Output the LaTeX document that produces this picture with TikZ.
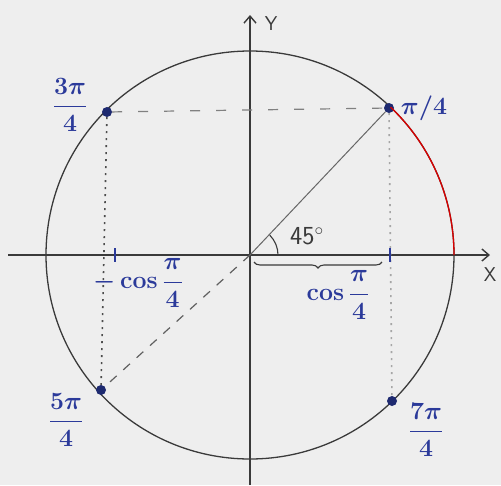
\documentclass[tikz,border=0pt]{standalone}
\usepackage{amsmath}
\usetikzlibrary{decorations.pathreplacing,arrows.meta}
\definecolor{ink}{HTML}{2B3A9A}
\definecolor{pen}{HTML}{3A3A3A}
\definecolor{dotc}{HTML}{1E2A70}
\definecolor{paper}{HTML}{EEEEEE}
\begin{document}
\begin{tikzpicture}[x=1pt,y=-1pt,
  ptnode/.style={circle,fill=dotc,inner sep=0pt,minimum size=10pt},
  lbl/.style={text=ink,inner sep=1pt},
  bigfrac/.style={lbl,font=\fontsize{28}{30}\selectfont\boldmath},
  smallfrac/.style={lbl,font=\fontsize{24}{26}\selectfont\boldmath},
  axis/.style={pen,line width=1.4pt,-{Straight Barb[length=7pt,width=12pt]}},
  guide/.style={gray,line width=1.2pt,dash pattern=on 10pt off 16pt},
  dots/.style={gray!60!black,line width=1.6pt,dash pattern=on 2pt off 5pt}]
\useasboundingbox (0,0) rectangle (501,485);
\fill[paper] (0,0) rectangle (501,485);
\coordinate (O) at (250,255);
\coordinate (xs) at (8,255);
\coordinate (xe) at (490,255);
\coordinate (ys) at (250,485);
\coordinate (ye) at (250,15);
\coordinate (E) at (454,255);
% circle
\draw[pen,line width=1.3pt] (O) circle (204pt);
% axes
\draw[axis] (xs) -- (xe);
\draw[axis] (ys) -- (ye);
\node[pen,font=\fontsize{20}{22}\selectfont\sffamily] (ylab) at (271,24) {Y};
\node[pen,font=\fontsize{20}{22}\selectfont\sffamily] (xlab) at (490,275) {X};
% points
\node[ptnode] (A) at (389,108) {};
\node[ptnode] (B) at (107,112) {};
\node[ptnode] (C) at (101,390) {};
\node[ptnode] (D) at (392,401) {};
% red arc
\draw[red!85!black,line width=1.3pt] (E) arc[start angle=0,end angle=46.4,radius=204pt];
% guide lines
\draw[guide] (B) -- (A);
\draw[dots,gray!70] (A) -- (D);
\draw[dots] (B) -- (C);
\draw[gray!75!black,line width=1.2pt,dash pattern=on 9pt off 9pt] (O) -- (C);
\draw[gray!80!black,line width=1pt] (O) -- (A);
% angle
\draw[pen,line width=1.1pt] (O) ++(28pt,0pt) arc[start angle=0,end angle=45,radius=28pt];
\node[pen,font=\fontsize{26}{28}\selectfont\sffamily] (ang) at (307,236) {45$^{\circ}$};
% ticks
\coordinate (t1a) at (115,248);
\coordinate (t1b) at (115,262);
\coordinate (t2a) at (390,248);
\coordinate (t2b) at (390,262);
\draw[ink,line width=2.2pt] (t1a) -- (t1b);
\draw[ink,line width=2.2pt] (t2a) -- (t2b);
% brace
\coordinate (b1) at (254,262);
\coordinate (b2) at (382,262);
\draw[pen,line width=1.1pt,decorate,decoration={brace,mirror,amplitude=6pt}] (b1) -- (b2);
% labels
\node[bigfrac] (lA) at (424,108) {$\pi/4$};
\node[bigfrac] (lB) at (70,105) {$\dfrac{3\pi}{4}$};
\node[bigfrac] (lC) at (66,420) {$\dfrac{5\pi}{4}$};
\node[bigfrac] (lD) at (426,430) {$\dfrac{7\pi}{4}$};
\node[smallfrac] (cosr) at (338,295) {$\cos\dfrac{\pi}{4}$};
\node[smallfrac] (cosl) at (138,283) {$-\cos\dfrac{\pi}{4}$};
\end{tikzpicture}
\end{document}
